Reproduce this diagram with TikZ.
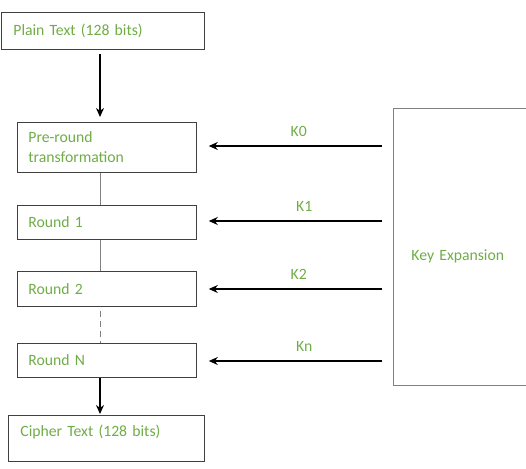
\documentclass[tikz,border=0pt]{standalone}
\usepackage{fontspec}
\setmainfont{Carlito}
\usetikzlibrary{arrows.meta}
\definecolor{txtgreen}{HTML}{70AD47}
\definecolor{boxgray}{HTML}{404040}
\begin{document}
\begin{tikzpicture}[x=1pt,y=-1pt,
  box/.style={draw=boxgray,line width=0.8pt,fill=white,text=txtgreen,font=\fontsize{15.7}{20}\selectfont,align=left,anchor=north west,inner sep=0pt},
  flow/.style={black,line width=1.4pt,-{Stealth[length=9pt,width=8pt]}},
  link/.style={gray,line width=0.8pt},
  keylbl/.style={text=txtgreen,font=\fontsize{15.7}{20}\selectfont,inner sep=1pt}]
\useasboundingbox (0,0) rectangle (526,468);
\node[box,minimum width=203pt,minimum height=37pt,text width=179pt] (pt) at (1,12) {Plain Text (128 bits)};
\node[box,minimum width=179pt,minimum height=50pt,text width=157pt] (pre) at (17,122) {Pre-round\\transformation};
\node[box,minimum width=179pt,minimum height=34pt,text width=157pt] (r1) at (17,205) {Round 1};
\node[box,minimum width=179pt,minimum height=35pt,text width=157pt] (r2) at (17,271) {Round 2};
\node[box,minimum width=179pt,minimum height=34pt,text width=157pt] (rn) at (17,343) {Round N};
\node[box,minimum width=196pt,minimum height=46pt,text width=172pt,text height=11pt,text depth=15pt] (ct) at (8,415) {Cipher Text (128 bits)};
\node[box,draw=gray,minimum width=140pt,minimum height=277pt,text width=104pt,text height=30pt,text depth=3pt] (ke) at (393,108) {Key Expansion};
\coordinate (spine) at (100,0);
\draw[flow,shorten <=4pt,shorten >=5pt] (spine |- pt.south) -- (spine |- pre.north);
\draw[link] (spine |- pre.south) -- (spine |- r1.north);
\draw[link] (spine |- r1.south) -- (spine |- r2.north);
\draw[link,dashed,dash pattern=on 6pt off 4pt,shorten <=4pt] (spine |- r2.south) -- (spine |- rn.north);
\draw[flow,shorten >=1pt] (spine |- rn.south) -- (spine |- ct.north);
\coordinate (k0s) at (382,146);
\coordinate (k1s) at (382,221);
\coordinate (k2s) at (382,289);
\coordinate (kns) at (382,361);
\draw[flow,shorten >=12pt] (k0s) -- (k0s -| pre.east) node[keylbl,pos=0.45,above=8pt] (k0) {K0};
\draw[flow,shorten >=12pt] (k1s) -- (k1s -| r1.east) node[keylbl,pos=0.42,above=8pt] (k1) {K1};
\draw[flow,shorten >=12pt] (k2s) -- (k2s -| r2.east) node[keylbl,pos=0.45,above=8pt] (k2) {K2};
\draw[flow,shorten >=12pt] (kns) -- (kns -| rn.east) node[keylbl,pos=0.42,above=8pt] (kn) {Kn};
\end{tikzpicture}
\end{document}
